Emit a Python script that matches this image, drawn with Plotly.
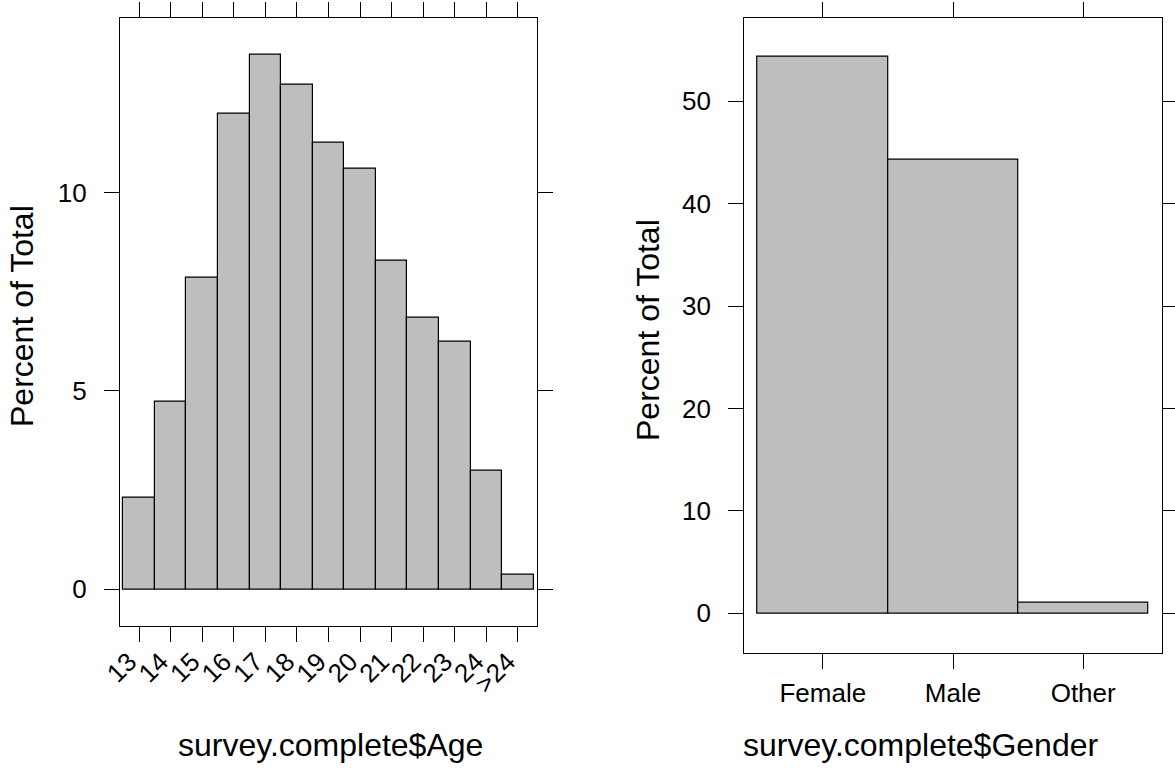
import plotly.graph_objects as go

age_labels = ["13", "14", "15", "16", "17", "18", "19", "20", "21", "22", "23", "24", ">24"]
age_pct = [2.32, 4.72, 7.85, 12.0, 13.47, 12.72, 11.26, 10.6, 8.28, 6.84, 6.23, 2.99, 0.38]

gender_labels = ["Female", "Male", "Other"]
gender_pct = [54.36, 44.33, 1.07]

age_yticks = [0, 5, 10]
gender_yticks = [0, 10, 20, 30, 40, 50]

W, H = 1175, 768
FONT = "Liberation Sans, Arial, sans-serif"
BAR_FILL = "#bebebe"

def px_x(v):
    return v / W

def px_y(v):
    return 1 - v / H

age_pos = list(range(1, len(age_labels) + 1))
gender_pos = list(range(1, len(gender_labels) + 1))

fig = go.Figure()
fig.add_trace(go.Bar(x=age_pos, y=age_pct, width=1, marker=dict(color=BAR_FILL, line=dict(color="black", width=1.2)),
                     xaxis="x", yaxis="y", showlegend=False))
fig.add_trace(go.Bar(x=gender_pos, y=gender_pct, width=1, marker=dict(color=BAR_FILL, line=dict(color="black", width=1.2)),
                     xaxis="x2", yaxis="y2", showlegend=False))

axis_common = dict(showline=True, linecolor="black", linewidth=1.2, mirror="ticks", ticks="outside",
                   ticklen=15, tickwidth=1.2, tickcolor="black", showgrid=False, zeroline=False,
                   automargin=False, tickfont=dict(family=FONT, size=26, color="black"))

fig.update_layout(
    width=W, height=H, margin=dict(l=0, r=0, t=0, b=0, autoexpand=False),
    paper_bgcolor="white", plot_bgcolor="white", bargap=0,
    xaxis=dict(domain=[px_x(120), px_x(537)], anchor="y", range=[0.395, 13.605],
               tickmode="array", tickvals=age_pos, ticktext=age_labels, tickangle=-45,
               ticklabelstandoff=-6, ticklabelshift=-10, **axis_common),
    yaxis=dict(domain=[px_y(626), px_y(17.7)], anchor="x", range=[-0.925, 14.41],
               tickmode="array", tickvals=age_yticks, ticktext=[str(v) for v in age_yticks],
               ticklabelstandoff=12, **axis_common),
    xaxis2=dict(domain=[px_x(744.3), px_x(1161.7)], anchor="y2", range=[0.397, 3.603],
                tickmode="array", tickvals=gender_pos, ticktext=gender_labels,
                ticklabelstandoff=2, **axis_common),
    yaxis2=dict(domain=[px_y(652.7), px_y(17.7)], anchor="x2", range=[-3.85, 58.16],
                tickmode="array", tickvals=gender_yticks, ticktext=[str(v) for v in gender_yticks],
                ticklabelstandoff=12, **axis_common),
)

title_font = dict(family=FONT, size=32, color="black")
fig.add_annotation(text="survey.complete$Age", x=px_x(330), y=px_y(745), xref="paper", yref="paper",
                   showarrow=False, xanchor="center", yanchor="middle", font=title_font)
fig.add_annotation(text="survey.complete$Gender", x=px_x(920), y=px_y(745), xref="paper", yref="paper",
                   showarrow=False, xanchor="center", yanchor="middle", font=title_font)
fig.add_annotation(text="Percent of Total", x=px_x(22), y=px_y(316), xref="paper", yref="paper",
                   showarrow=False, xanchor="center", yanchor="middle", textangle=-90, font=title_font)
fig.add_annotation(text="Percent of Total", x=px_x(648), y=px_y(330), xref="paper", yref="paper",
                   showarrow=False, xanchor="center", yanchor="middle", textangle=-90, font=title_font)

fig.write_html("out.html")
